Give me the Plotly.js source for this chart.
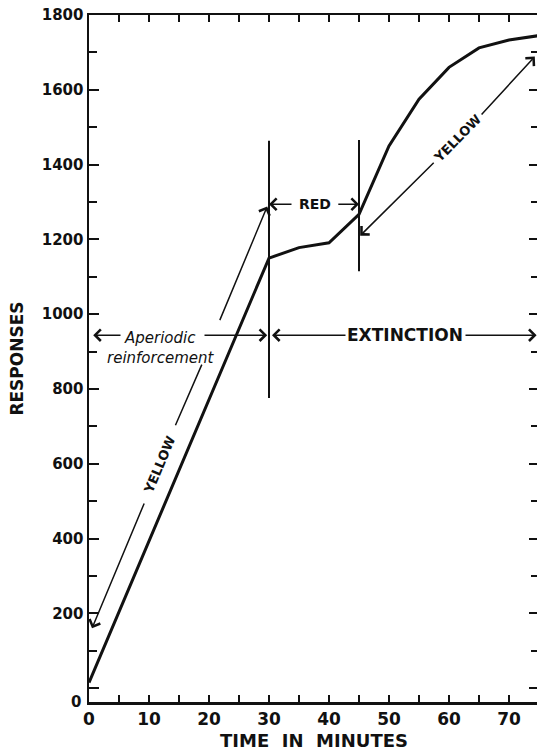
<!DOCTYPE html>
<html>
<head>
<meta charset="utf-8">
<script src="https://cdn.plot.ly/plotly-3.0.1.min.js"></script>
<style>html,body{margin:0;padding:0;overflow:hidden;background:#fff}</style>
</head>
<body>
<div id="chart" style="width:540px;height:751px"></div>
<script>
// ---- data ----
const timeMin   = [0, 30, 35, 40, 45, 50, 55, 60, 65, 70, 75];
const responses = [15, 1150, 1178, 1191, 1267, 1450, 1575, 1660, 1712, 1733, 1745];

// vertical phase markers
const markerTimes   = [30, 45];
const markerBottoms = [776, 1115];
const markerTops    = [1464, 1466];

// tick labels
const yTickVals = [0, 200, 400, 600, 800, 1000, 1200, 1400, 1600, 1800];
const yTickText = ['', '200', '400', '600', '800', '1000', '1200', '1400', '1600', '1800'];
const xTickVals = [0, 10, 20, 30, 40, 50, 60, 70];
const xTickText = ['0', '10', '20', '30', '40', '50', '60', '70'];

// annotation arrows (time, responses)
const yellowLeftX  = [0.5, 9.3, 14.3, 18.8, 21.7, 29.7];
const yellowLeftY  = [160, 498, 699, 865, 980, 1288];
const yellowRightX = [45.2, 57.7, 65.2, 74.3];
const yellowRightY = [1210, 1409, 1530, 1689];
const redX = [30, 34, 41.3, 45];
const redY = 1294;
const aperiodicX = [0.7, 5.5, 19, 29.7];
const aperiodicY = 944;
const extinctionX = [30.5, 43, 62.5, 74.6];
const extinctionY = 944;

// labels
const labelTexts = ['YELLOW', 'YELLOW', 'RED', '<i>Aperiodic<br>reinforcement</i>', 'EXTINCTION'];
const labelX     = [11.8, 61.4, 37.7, 12, 52.7];
const labelY     = [598, 1470, 1294, 909, 944];
const labelAngle = [-67, -45.5, 0, 0, 0];
const labelSize  = [13, 13, 14, 15, 17];
const labelBold  = [true, true, true, false, true];

// ---- drawing ----
const INK = '#111';
const FONT = 'DejaVu Sans';

const traces = [{
  x: timeMin, y: responses, type: 'scatter', mode: 'lines',
  line: {color: INK, width: 3}, hoverinfo: 'skip', showlegend: false
}];
markerTimes.forEach((t, i) => {
  traces.push({
    x: [t, t], y: [markerBottoms[i], markerTops[i]], type: 'scatter', mode: 'lines',
    line: {color: INK, width: 2}, hoverinfo: 'skip', showlegend: false
  });
});

function seg(xh, yh, xt, yt, head) {
  return {
    x: xh, y: yh, ax: xt, ay: yt, xref: 'x', yref: 'y', axref: 'x', ayref: 'y',
    text: '', showarrow: true, arrowhead: head ? 4 : 0, arrowsize: 1.5,
    arrowwidth: 1.5, arrowcolor: INK, standoff: 0, startstandoff: 0
  };
}

const annotations = [];
// left yellow arrow (broken for labels)
annotations.push(seg(yellowLeftX[0], yellowLeftY[0], yellowLeftX[1], yellowLeftY[1], true));
annotations.push(seg(yellowLeftX[3], yellowLeftY[3], yellowLeftX[2], yellowLeftY[2], false));
annotations.push(seg(yellowLeftX[5], yellowLeftY[5], yellowLeftX[4], yellowLeftY[4], true));
// right yellow arrow
annotations.push(seg(yellowRightX[0], yellowRightY[0], yellowRightX[1], yellowRightY[1], true));
annotations.push(seg(yellowRightX[3], yellowRightY[3], yellowRightX[2], yellowRightY[2], true));
// double arrows
[[redX, redY], [aperiodicX, aperiodicY], [extinctionX, extinctionY]].forEach(([xs, y]) => {
  annotations.push(seg(xs[0], y, xs[1], y, true));
  annotations.push(seg(xs[3], y, xs[2], y, true));
});
// labels
labelTexts.forEach((t, i) => {
  annotations.push({
    x: labelX[i], y: labelY[i], xref: 'x', yref: 'y', text: t, showarrow: false,
    textangle: labelAngle[i], xanchor: 'center', yanchor: 'middle',
    font: {family: FONT, size: labelSize[i], color: INK, weight: labelBold[i] ? 'bold' : 'normal'}
  });
});
// corner zero of the y axis
annotations.push({
  x: -0.03, y: -37, xref: 'paper', yref: 'y', text: '0', showarrow: false,
  xanchor: 'center', yanchor: 'middle',
  font: {family: FONT, size: 15, color: INK, weight: 'bold'}
});

const layout = {
  width: 540, height: 751,
  margin: {l: 89, r: 1, t: 15, b: 49},
  paper_bgcolor: '#fff', plot_bgcolor: '#fff',
  showlegend: false,
  xaxis: {
    range: [0, 75], tickmode: 'array', tickvals: xTickVals, ticktext: xTickText,
    ticks: 'inside', ticklen: 7, tickwidth: 2, tickcolor: INK,
    showline: true, linewidth: 2.5, linecolor: INK, mirror: 'allticks',
    showgrid: false, zeroline: false,
    tickfont: {family: FONT, size: 17, color: INK, weight: 'bold'},
    minor: {dtick: 5, tick0: 0, ticks: 'inside', ticklen: 7, tickwidth: 2, tickcolor: INK, showgrid: false},
    title: {text: 'TIME\u00a0\u00a0IN\u00a0\u00a0MINUTES', standoff: 8,
            font: {family: FONT, size: 18, color: INK, weight: 'bold'}}
  },
  yaxis: {
    range: [-37, 1800], tickmode: 'array', tickvals: yTickVals, ticktext: yTickText,
    ticks: 'inside', ticklen: 10, tickwidth: 2, tickcolor: INK,
    showline: true, linewidth: 2.5, linecolor: INK, mirror: 'allticks',
    showgrid: false, zeroline: false,
    tickfont: {family: FONT, size: 15, color: INK, weight: 'bold'},
    minor: {dtick: 100, tick0: 0, ticks: 'inside', ticklen: 8, tickwidth: 2, tickcolor: INK, showgrid: false},
    title: {text: 'RESPONSES', standoff: 14,
            font: {family: FONT, size: 17, color: INK, weight: 'bold'}}
  },
  annotations: annotations
};

Plotly.newPlot('chart', traces, layout, {staticPlot: true, displayModeBar: false});
</script>
</body>
</html>
